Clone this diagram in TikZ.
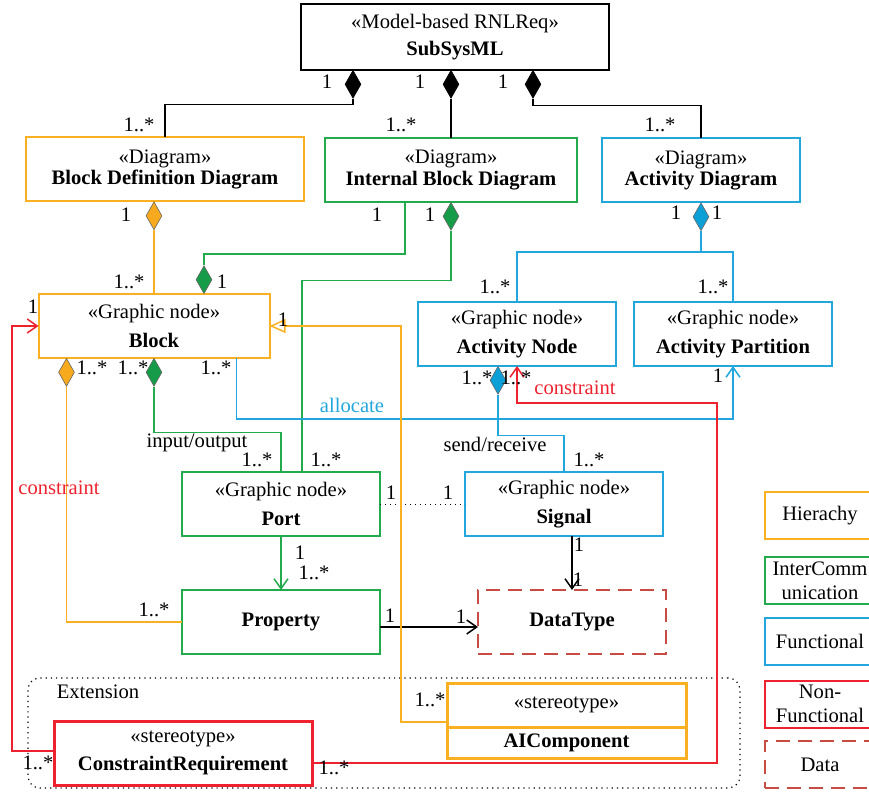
\documentclass[tikz,border=0pt]{standalone}
\usepackage{fontspec}
\setmainfont{Liberation Serif}
\usetikzlibrary{shapes.geometric,arrows.meta,positioning,calc}
\definecolor{hierorange}{RGB}{251,176,33}
\definecolor{icgreen}{RGB}{34,170,76}
\definecolor{funblue}{RGB}{33,166,222}
\definecolor{nfred}{RGB}{237,34,46}
\definecolor{datared}{RGB}{198,76,68}
\definecolor{dorange}{RGB}{247,170,30}
\definecolor{dgreen}{RGB}{22,155,72}
\definecolor{dblue}{RGB}{12,160,215}

\begin{document}
\begin{tikzpicture}[
    x=0.5pt, y=-0.5pt,
    font=\fontsize{10.3}{10.8}\selectfont,
    >={Straight Barb[length=5pt,width=7pt]},
    box/.style={rectangle, draw=black, line width=1pt, align=center, inner sep=1pt,
      outer sep=0pt, minimum height=32pt},
    hierbox/.style={box, draw=hierorange},
    icbox/.style={box, draw=icgreen},
    funbox/.style={box, draw=funblue},
    legendbox/.style={box, minimum width=55pt, minimum height=23.5pt, font=\fontsize{10.3}{12.2}\selectfont},
    dmd/.style={diamond, draw=black!60, line width=0.3pt, inner sep=0pt, minimum width=8pt, minimum height=14pt},
    conn/.style={line width=0.75pt, draw=black},
    hier/.style={line width=0.75pt, draw=hierorange},
    ic/.style={line width=0.75pt, draw=icgreen},
    fun/.style={line width=0.75pt, draw=funblue},
    nf/.style={line width=0.75pt, draw=nfred},
    mult/.style={inner sep=0pt}
  ]
  \useasboundingbox (0,0) rectangle (869,792);
  \node[box, minimum width=154pt, minimum height=33pt] (sys) at (455,37)
    {«Model-based RNLReq»\\[2.5pt]\textbf{SubSysML}};
  \node[hierbox, minimum width=139pt] (bdd) at (165,169.5) {«Diagram»\\\textbf{Block Definition Diagram}};
  \node[icbox, minimum width=126pt] (ibd) at (451,170) {«Diagram»\\\textbf{Internal Block Diagram}};
  \node[funbox, minimum width=99pt] (ad) at (701,170.5) {«Diagram»\\\textbf{Activity Diagram}};
  \node[hierbox, minimum width=115.5pt] (block) at (154,326) {«Graphic node»\\[3.5pt]\textbf{Block}};
  \node[funbox, minimum width=99pt] (anode) at (517,334) {«Graphic node»\\[3.5pt]\textbf{Activity Node}};
  \node[funbox, minimum width=99pt, right=9pt of anode] (apart) {«Graphic node»\\[3.5pt]\textbf{Activity Partition}};
  \node[icbox, minimum width=99pt] (port) at (281,504) {«Graphic node»\\[3.5pt]\textbf{Port}};
  \node[funbox, minimum width=99pt, right=42.5pt of port] (signal) {«Graphic node»\\[3.5pt]\textbf{Signal}};
  \node[icbox, minimum width=99pt, below=27pt of port] (prop) {\textbf{Property}};
  \node[box, draw=datared, dash pattern=on 7pt off 4pt, minimum width=94pt] (dtype) at (572,622) {\textbf{DataType}};

  \node[draw, dotted, line width=0.6pt, rounded corners=6pt, minimum width=356pt, minimum height=55pt] (ext) at (384,733) {};
  \node[mult] (extlab) at (98,692) {Extension};
  \node[box, draw=nfred, line width=1.5pt, minimum width=129pt] (creq) at (183,753)
    {«stereotype»\\[3.5pt]\textbf{ConstraintRequirement}};
  \node[box, draw=hierorange, line width=1.5pt, minimum width=119.5pt, minimum height=22pt] (aichead) at (566.5,705) {«stereotype»};
  \node[box, draw=hierorange, line width=1.5pt, minimum width=119.5pt, minimum height=15.5pt, below=0pt of aichead] (aic) {\textbf{AIComponent}};

  \node[legendbox, draw=hierorange] (lhier) at (820,515.5) {Hierachy};
  \node[legendbox, draw=icgreen] (lic) at (820,580.5) {InterComm\\unication};
  \node[legendbox, draw=funblue] (lfun) at (820,641.5) {Functional};
  \node[legendbox, draw=nfred] (lnf) at (820,704) {Non-\\Functional};
  \node[legendbox, draw=datared, dash pattern=on 7pt off 4pt] (ldata) at (820,764.5) {Data};

  \node[dmd, fill=black, draw=black, anchor=north] (d1) at (353,70) {};
  \node[dmd, fill=black, draw=black, anchor=north] (d2) at (ibd.north |- sys.south) {};
  \node[dmd, fill=black, draw=black, anchor=north] (d3) at (533,70) {};
  \node[dmd, fill=dorange, anchor=north] (dbo) at (block.north |- bdd.south) {};
  \node[dmd, fill=dgreen, anchor=north] (dgi) at (ibd.south) {};
  \node[dmd, fill=dgreen, anchor=south] (dgb) at ($(block.north)+(50,0)$) {};
  \node[dmd, fill=dblue, anchor=north] (dad) at (ad.south) {};
  \node[dmd, fill=dorange, anchor=north] (dop) at ($(block.south west)+(28,0)$) {};
  \node[dmd, fill=dgreen, anchor=north] (dgp) at (block.south) {};
  \node[dmd, fill=dblue, anchor=north] (dan) at ($(anode.south)+(-19,0)$) {};

  \draw[conn] (d1.south) -- ++(0,6) -| (bdd.north);
  \draw[conn] (d2.south) -- (ibd.north);
  \draw[conn] (d3.south) -- ++(0,7) -| (ad.north);
  \draw[hier] (dbo.south) -- (block.north);
  \draw[ic] ($(ibd.south west)+(80,0)$) -- ++(0,52) -| (dgb.north);
  \draw[ic] (dgi.south) -- ++(0,50) -| ($(port.north)+(21,0)$);
  \draw[ic] (dgp.south) -- ++(0,46) -| (port.north);
  \draw[hier] (dop.south) |- (prop.west);
  \draw[fun,->] ($(block.south east)+(-33,0)$) -- ++(0,61) -| (apart.south);
  \draw[fun] (dad.south) -- ++(0,21) coordinate (adj) -| (anode.north); \draw[fun] (adj) -| (apart.north);
  \draw[fun] (dan.south) -- ++(0,41) -| (signal.north);
  \draw[conn, line width=0.5pt, dotted] (port.east) -- (signal.west);
  \draw[ic,->] (port.south) -- (prop.north);
  \draw[conn,->] ($(prop.east)+(0,5)$) -- ($(dtype.west)+(0,5)$);
  \draw[conn,->] (signal.south -| dtype.north) -- (dtype.north);
  \draw[hier,-{Triangle[open,fill=white,length=8pt,width=7pt]}] ($(aichead.west)+(0,17)$) -- ++(-46,0) |- (block.east);
  \draw[nf,->] ($(creq.west)+(0,-2)$) -- ++(-42,0) |- (block.west);
  \draw[nf,->] ($(creq.east)+(0,10)$) -| ($(anode.south)+(200,37)$) -| (anode.south);

  \node[mult] (m1) at (327,82) {1}; \node[mult] (m2) at (420,82) {1}; \node[mult] (m3) at (503,82) {1};
  \node[mult] (m4) at (139,125) {1..*}; \node[mult] (m5) at (401,125) {1..*}; \node[mult] (m6) at (660,125) {1..*};
  \node[mult] (m7) at (126,215) {1}; \node[mult] (m8) at (377,215) {1}; \node[mult] (m9) at (430,215) {1};
  \node[mult] (m10) at (676,213) {1}; \node[mult] (m11) at (717,213) {1};
  \node[mult] (m12) at (129,282) {1..*}; \node[mult] (m13) at (222,282) {1};
  \node[mult] (m14) at (495,287) {1..*}; \node[mult] (m15) at (713,287) {1..*};
  \node[mult] (m16) at (33,307) {1}; \node[mult] (m17) at (283,320) {1};
  \node[mult] (m18) at (92,368) {1..*}; \node[mult] (m19) at (133,368) {1..*}; \node[mult] (m20) at (216,368) {1..*};
  \node[mult] (m21) at (477,378) {1..*}; \node[mult] (m22) at (516,378) {1..*}; \node[mult] (m23) at (718,376) {1};
  \node[mult] (m24) at (257,460) {1..*}; \node[mult] (m25) at (326,460) {1..*}; \node[mult] (m26) at (589,460) {1..*};
  \node[mult] (m27) at (391,493) {1}; \node[mult] (m28) at (448,493) {1};
  \node[mult] (m29) at (300,553) {1}; \node[mult] (m30) at (314,573) {1..*};
  \node[mult] (m31) at (154,610) {1..*}; \node[mult] (m32) at (390,616) {1}; \node[mult] (m33) at (461,617) {1};
  \node[mult] (m34) at (579,545) {1}; \node[mult] (m35) at (578,580) {1};
  \node[mult] (m36) at (430,700) {1..*}; \node[mult] (m37) at (38,763) {1..*}; \node[mult] (m38) at (334,768) {1..*};

  \node[mult, text=funblue] (lalloc) at (352,405) {allocate};
  \node[mult] (lio) at (197,443) {input/output};
  \node[mult] (lsr) at (495,444) {send/receive};
  \node[mult, text=nfred] (lcon1) at (59,488) {constraint};
  \node[mult, text=nfred] (lcon2) at (575,388) {constraint};
\end{tikzpicture}
\end{document}
